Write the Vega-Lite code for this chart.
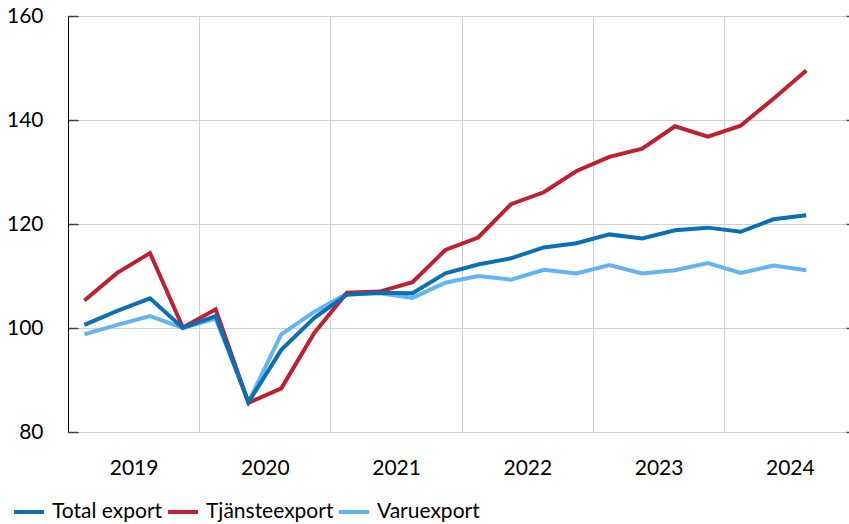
{
  "$schema": "https://vega.github.io/schema/vega-lite/v6.json",
  "width": 778,
  "height": 416,
  "autosize": {"type": "none"},
  "padding": {"left": 68, "top": 16, "right": 3, "bottom": 92},
  "background": "white",
  "config": {
    "view": {"stroke": null},
    "font": "Lato",
    "axis": {"labelFont": "Lato", "labelColor": "#000000", "titleColor": "#000000"},
    "legend": {"labelFont": "Lato", "labelColor": "#000000"}
  },
  "data": {
    "values": [
      {"q": "2019Q1", "t": 2019.125, "Total export": 100.6, "Tjänsteexport": 105.3, "Varuexport": 98.8},
      {"q": "2019Q2", "t": 2019.375, "Total export": 103.3, "Tjänsteexport": 110.6, "Varuexport": 100.6},
      {"q": "2019Q3", "t": 2019.625, "Total export": 105.7, "Tjänsteexport": 114.4, "Varuexport": 102.3},
      {"q": "2019Q4", "t": 2019.875, "Total export": 100.0, "Tjänsteexport": 100.1, "Varuexport": 100.0},
      {"q": "2020Q1", "t": 2020.125, "Total export": 102.3, "Tjänsteexport": 103.6, "Varuexport": 101.8},
      {"q": "2020Q2", "t": 2020.375, "Total export": 85.7, "Tjänsteexport": 85.6, "Varuexport": 85.8},
      {"q": "2020Q3", "t": 2020.625, "Total export": 95.8, "Tjänsteexport": 88.4, "Varuexport": 98.8},
      {"q": "2020Q4", "t": 2020.875, "Total export": 101.9, "Tjänsteexport": 99.0, "Varuexport": 103.1},
      {"q": "2021Q1", "t": 2021.125, "Total export": 106.4, "Tjänsteexport": 106.8, "Varuexport": 106.6},
      {"q": "2021Q2", "t": 2021.375, "Total export": 106.8, "Tjänsteexport": 107.0, "Varuexport": 106.7},
      {"q": "2021Q3", "t": 2021.625, "Total export": 106.7, "Tjänsteexport": 108.8, "Varuexport": 105.8},
      {"q": "2021Q4", "t": 2021.875, "Total export": 110.5, "Tjänsteexport": 115.0, "Varuexport": 108.7},
      {"q": "2022Q1", "t": 2022.125, "Total export": 112.2, "Tjänsteexport": 117.4, "Varuexport": 110.0},
      {"q": "2022Q2", "t": 2022.375, "Total export": 113.4, "Tjänsteexport": 123.8, "Varuexport": 109.3},
      {"q": "2022Q3", "t": 2022.625, "Total export": 115.5, "Tjänsteexport": 126.1, "Varuexport": 111.2},
      {"q": "2022Q4", "t": 2022.875, "Total export": 116.3, "Tjänsteexport": 130.2, "Varuexport": 110.5},
      {"q": "2023Q1", "t": 2023.125, "Total export": 118.0, "Tjänsteexport": 132.9, "Varuexport": 112.1},
      {"q": "2023Q2", "t": 2023.375, "Total export": 117.2, "Tjänsteexport": 134.5, "Varuexport": 110.5},
      {"q": "2023Q3", "t": 2023.625, "Total export": 118.8, "Tjänsteexport": 138.8, "Varuexport": 111.1},
      {"q": "2023Q4", "t": 2023.875, "Total export": 119.3, "Tjänsteexport": 136.8, "Varuexport": 112.5},
      {"q": "2024Q1", "t": 2024.125, "Total export": 118.5, "Tjänsteexport": 138.9, "Varuexport": 110.6},
      {"q": "2024Q2", "t": 2024.375, "Total export": 120.9, "Tjänsteexport": 144.1, "Varuexport": 112.0},
      {"q": "2024Q3", "t": 2024.625, "Total export": 121.7, "Tjänsteexport": 149.5, "Varuexport": 111.1}
    ]
  },
  "transform": [
    {"fold": ["Varuexport", "Tjänsteexport", "Total export"], "as": ["serie", "v"]}
  ],
  "encoding": {
    "x": {
      "field": "t",
      "type": "quantitative",
      "scale": {"domain": [2019, 2024.928], "nice": false, "zero": false},
      "axis": {
        "orient": "bottom",
        "title": null,
        "values": [2019, 2020, 2021, 2022, 2023, 2024],
        "format": "d",
        "grid": true,
        "gridColor": "#d0d0d0",
        "gridWidth": 1,
        "ticks": false,
        "domain": true,
        "domainColor": "#d0d0d0",
        "domainWidth": 1,
        "labelOffset": 65.6,
        "labelFlush": false,
        "labelOverlap": false,
        "labelPadding": 25,
        "labelFontSize": 21,
        "labelColor": "#000000"
      }
    }
  },
  "layer": [
    {
      "mark": {"type": "line", "strokeWidth": 4},
      "encoding": {
        "y": {
          "field": "v",
          "type": "quantitative",
          "scale": {"domain": [80, 160], "nice": false, "zero": false},
          "axis": {
            "orient": "left",
            "title": null,
            "values": [80, 100, 120, 140, 160],
            "grid": true,
            "gridColor": "#d0d0d0",
            "gridWidth": 1,
            "domain": true,
            "domainColor": "#000000",
            "domainWidth": 1,
            "ticks": true,
            "tickColor": "#404040",
            "tickSize": -10,
            "tickWidth": 1.5,
            "labelPadding": 35,
            "labelFontSize": 21,
            "labelColor": "#000000"
          }
        },
        "color": {
          "field": "serie",
          "type": "nominal",
          "scale": {
            "domain": ["Total export", "Tjänsteexport", "Varuexport"],
            "range": ["#0b6fb6", "#c0202e", "#62b5f2"]
          },
          "legend": {
            "orient": "none",
            "legendX": -56,
            "legendY": 479,
            "direction": "horizontal",
            "title": null,
            "symbolType": "stroke",
            "symbolSize": 900,
            "symbolStrokeWidth": 4,
            "labelFontSize": 21,
            "labelOffset": 6,
            "columnPadding": -3,
            "padding": 0,
            "labelColor": "#000000"
          }
        }
      }
    },
    {
      "mark": {"type": "line", "strokeWidth": 1, "opacity": 0},
      "encoding": {
        "detail": {"field": "serie", "type": "nominal"},
        "y": {
          "field": "v",
          "type": "quantitative",
          "axis": {
            "orient": "right",
            "title": null,
            "values": [80, 100, 120, 140, 160],
            "grid": false,
            "domain": false,
            "labels": false,
            "ticks": true,
            "tickColor": "#404040",
            "tickSize": 3,
            "tickWidth": 1.5
          }
        }
      }
    }
  ],
  "resolve": {"axis": {"y": "independent"}}
}
